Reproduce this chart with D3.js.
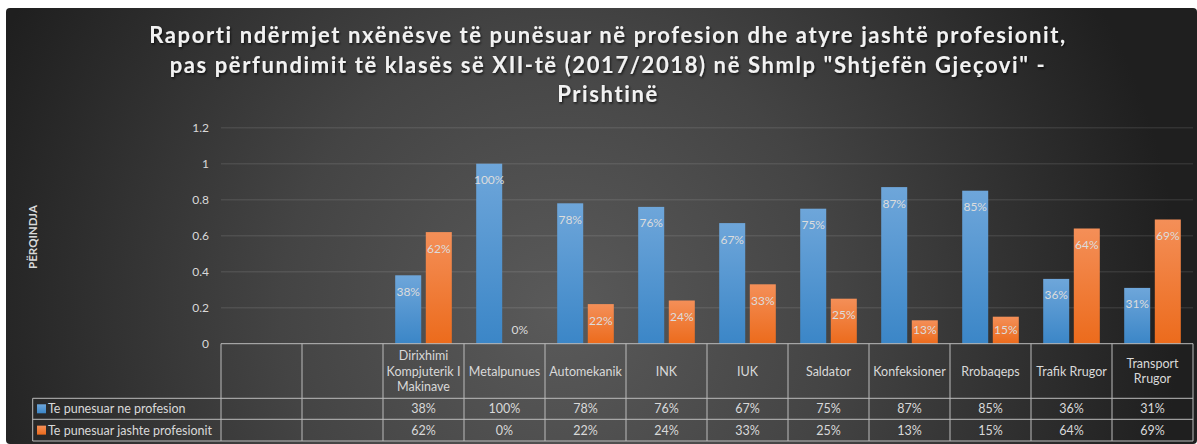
<!DOCTYPE html>
<html>
<head>
<meta charset="utf-8">
<script src="https://cdn.jsdelivr.net/npm/d3@7"></script>
<style>
  body { margin: 0; background: #fff; }
  svg { display: block; font-family: Lato, "Open Sans", sans-serif; }
</style>
</head>
<body>
<div id="chart"></div>
<script>
// Chart data
var categories = ["", " ", "Dirixhimi Kompjuterik I Makinave", "Metalpunues", "Automekanik", "INK", "IUK", "Saldator", "Konfeksioner", "Rrobaqeps", "Trafik Rrugor", "Transport Rrugor"];
var seriesNames = ["Te punesuar ne profesion", "Te punesuar jashte profesionit"];
var inProfession = [null, null, 0.38, 1.00, 0.78, 0.76, 0.67, 0.75, 0.87, 0.85, 0.36, 0.31];
var outsideProfession = [null, null, 0.62, 0.00, 0.22, 0.24, 0.33, 0.25, 0.13, 0.15, 0.64, 0.69];
var yTicks = [0, 0.2, 0.4, 0.6, 0.8, 1, 1.2];
var titleLines = [
  "Raporti ndërmjet nxënësve të punësuar në profesion dhe atyre jashtë profesionit,",
  "pas përfundimit të klasës së XII-të (2017/2018) në Shmlp \"Shtjefën Gjeçovi\" -",
  "Prishtinë"
];
var yTitle = "PËRQINDJA";

var W = 1197, H = 444;
var plot = { left: 221, right: 1193, top: 127.7, bottom: 343.7 };
var rowY = [343.7, 398.3, 419.3, 441];
var legendLeft = 32.7;

var svg = d3.select("#chart").append("svg")
  .attr("width", W)
  .attr("height", H);

var defs = svg.append("defs");

var bg = defs.append("radialGradient")
  .attr("id", "bg")
  .attr("gradientUnits", "userSpaceOnUse")
  .attr("cx", 560).attr("cy", 310).attr("r", 620);
bg.append("stop").attr("offset", "0").attr("stop-color", "#5a5a5a");
bg.append("stop").attr("offset", "0.45").attr("stop-color", "#444");
bg.append("stop").attr("offset", "1").attr("stop-color", "#1f1f1f");

var colors = [["#6ea6da", "#3b86c7"], ["#f48f58", "#ec6b1c"]];
colors.forEach(function (c, i) {
  var g = defs.append("linearGradient")
    .attr("id", "bar" + i)
    .attr("x1", 0).attr("y1", 0).attr("x2", 0).attr("y2", 1);
  g.append("stop").attr("offset", "0").attr("stop-color", c[0]);
  g.append("stop").attr("offset", "1").attr("stop-color", c[1]);
});

var shadow = defs.append("filter").attr("id", "shadow")
  .attr("x", "-5%").attr("y", "-30%").attr("width", "110%").attr("height", "160%");
shadow.append("feDropShadow")
  .attr("dx", 1).attr("dy", 1.5).attr("stdDeviation", 1)
  .attr("flood-color", "#000").attr("flood-opacity", 0.7);

// background
svg.append("rect")
  .attr("x", 6).attr("y", 8)
  .attr("width", W - 6).attr("height", H - 8)
  .attr("rx", 4)
  .attr("fill", "url(#bg)");

// title
svg.append("g")
  .selectAll("text")
  .data(titleLines)
  .enter()
  .append("text")
  .attr("x", 608)
  .attr("y", (d, i) => 43 + i * 29.5)
  .attr("text-anchor", "middle")
  .attr("fill", "#f2f2f2")
  .attr("filter", "url(#shadow)")
  .style("font-size", "22px")
  .style("font-weight", "bold")
  .style("letter-spacing", "1.6px")
  .text((d) => d);

// scales
var x = d3.scaleBand().domain(categories).range([plot.left, plot.right]);
var x1 = d3.scaleBand().domain(seriesNames).range([12.2, 68.8]).paddingInner(0.15);
var y = d3.scaleLinear().domain([0, 1.2]).range([plot.bottom, plot.top]);

// gridlines
svg.append("g")
  .selectAll("line")
  .data(yTicks.filter((d) => d > 0))
  .enter()
  .append("line")
  .attr("x1", plot.left).attr("x2", plot.right)
  .attr("y1", (d) => y(d)).attr("y2", (d) => y(d))
  .attr("stroke", "rgba(255,255,255,0.09)")
  .attr("stroke-width", 1.5);

// y axis
var yAxis = svg.append("g")
  .attr("transform", "translate(" + 209 + ",0)")
  .call(d3.axisLeft(y).tickValues(yTicks).tickSize(0).tickFormat((d) => String(+d.toFixed(1))));
yAxis.select(".domain").remove();
yAxis.selectAll("text")
  .attr("fill", "#d9d9d9")
  .attr("x", 0)
  .style("font-family", "Lato, sans-serif")
  .style("font-size", "12px");

svg.append("text")
  .attr("transform", "translate(37,237) rotate(-90)")
  .attr("text-anchor", "middle")
  .attr("fill", "#d9d9d9")
  .style("font-size", "11.5px")
  .style("font-weight", "bold")
  .text(yTitle);

// bars
var series = [inProfession, outsideProfession];
series.forEach(function (values, s) {
  var rows = categories.map((c, i) => ({ cat: c, v: values[i] })).filter((d) => d.v !== null);
  var g = svg.append("g");
  g.selectAll("rect")
    .data(rows)
    .enter()
    .append("rect")
    .attr("x", (d) => x(d.cat) + x1(seriesNames[s]))
    .attr("width", x1.bandwidth())
    .attr("y", (d) => y(d.v))
    .attr("height", (d) => y(0) - y(d.v))
    .attr("fill", "url(#bar" + s + ")");
  g.selectAll("text")
    .data(rows)
    .enter()
    .append("text")
    .attr("x", (d) => x(d.cat) + x1(seriesNames[s]) + x1.bandwidth() / 2)
    .attr("y", (d) => Math.min(y(d.v) + 20.5, y(0) - 10))
    .attr("text-anchor", "middle")
    .attr("fill", "#dcdcdc")
    .style("font-size", "12px")
    .text((d) => Math.round(d.v * 100) + "%");
});

// data table
var table = svg.append("g")
  .attr("stroke", "#bcbcbc")
  .attr("stroke-width", 1);

table.append("line")
  .attr("x1", plot.left).attr("x2", plot.right)
  .attr("y1", rowY[0]).attr("y2", rowY[0]);
rowY.slice(1).forEach(function (ry) {
  table.append("line")
    .attr("x1", legendLeft).attr("x2", plot.right)
    .attr("y1", ry).attr("y2", ry);
});
table.append("line")
  .attr("x1", legendLeft).attr("x2", legendLeft)
  .attr("y1", rowY[1]).attr("y2", rowY[3]);
categories.forEach(function (c) {
  table.append("line")
    .attr("x1", x(c)).attr("x2", x(c))
    .attr("y1", rowY[0]).attr("y2", rowY[3]);
});
table.append("line")
  .attr("x1", plot.right).attr("x2", plot.right)
  .attr("y1", rowY[0]).attr("y2", rowY[3]);

// category header labels (wrapped)
var headerMid = (rowY[0] + rowY[1]) / 2;
var header = svg.append("g")
  .attr("fill", "#d9d9d9")
  .style("font-size", "12.5px");
categories.forEach(function (c) {
  if (!c.trim()) return;
  var words = c.split(" ");
  var lines = [];
  var probe = header.append("text").style("visibility", "hidden");
  var line = [];
  words.forEach(function (w) {
    line.push(w);
    probe.text(line.join(" "));
    if (probe.node().getComputedTextLength() > 79 && line.length > 1) {
      line.pop();
      lines.push(line.join(" "));
      line = [w];
    }
  });
  lines.push(line.join(" "));
  probe.remove();
  var lh = 15.5;
  header.append("g")
    .selectAll("text")
    .data(lines)
    .enter()
    .append("text")
    .attr("x", x(c) + x.bandwidth() / 2)
    .attr("y", (d, i) => headerMid + 4.5 + (i - (lines.length - 1) / 2) * lh)
    .attr("text-anchor", "middle")
    .text((d) => d);
});

// value rows + legend
series.forEach(function (values, s) {
  var mid = (rowY[s + 1] + rowY[s + 2]) / 2;
  svg.append("rect")
    .attr("x", 37).attr("y", mid - 4.5)
    .attr("width", 9).attr("height", 9)
    .attr("fill", "url(#bar" + s + ")");
  svg.append("text")
    .attr("x", 48).attr("y", mid + 4.5)
    .attr("fill", "#d9d9d9")
    .style("font-size", "12.5px")
    .text(seriesNames[s]);
  svg.append("g")
    .selectAll("text")
    .data(categories.map((c, i) => ({ cat: c, v: values[i] })).filter((d) => d.v !== null))
    .enter()
    .append("text")
    .attr("x", (d) => x(d.cat) + x.bandwidth() / 2)
    .attr("y", mid + 4.5)
    .attr("text-anchor", "middle")
    .attr("fill", "#d9d9d9")
    .style("font-size", "12.5px")
    .text((d) => Math.round(d.v * 100) + "%");
});
</script>
</body>
</html>
